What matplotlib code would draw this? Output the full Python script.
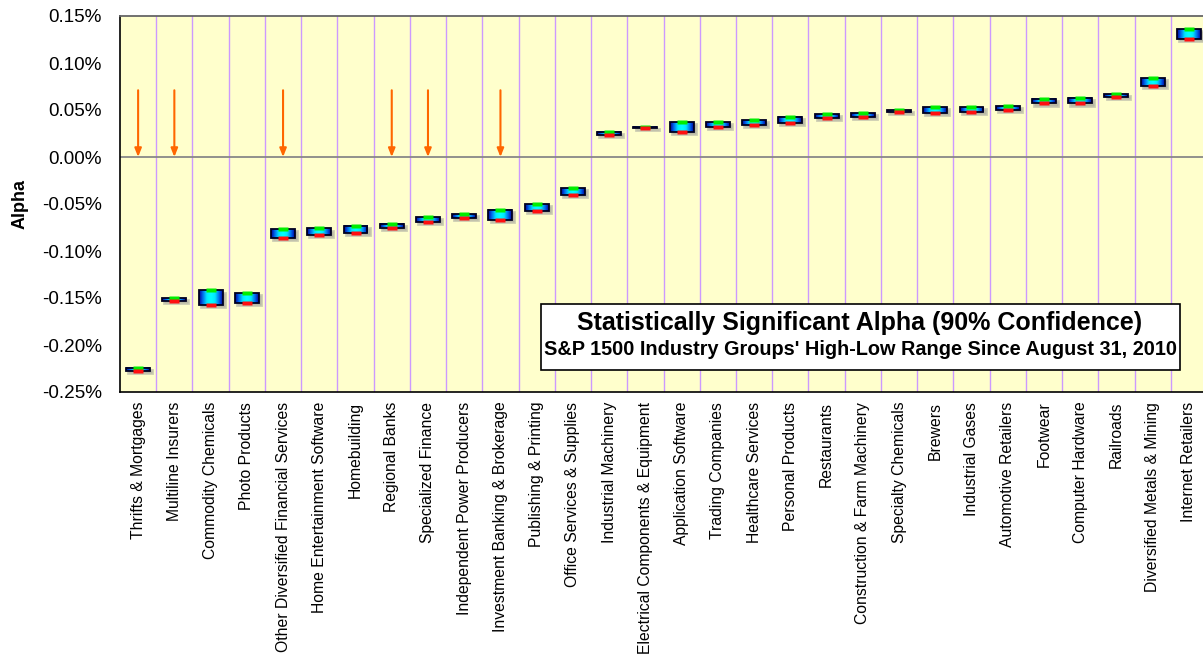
import numpy as np
import matplotlib
matplotlib.use("Agg")
import matplotlib.pyplot as plt
from matplotlib.patches import Rectangle
from matplotlib.path import Path
from matplotlib.colors import LinearSegmentedColormap
from matplotlib.transforms import ScaledTranslation

plt.rcParams['font.family'] = ['Liberation Sans', 'DejaVu Sans']

# industry groups, sorted by alpha
categories = ["Thrifts & Mortgages", "Multiline Insurers", "Commodity Chemicals", "Photo Products",
              "Other Diversified Financial Services", "Home Entertainment Software", "Homebuilding",
              "Regional Banks", "Specialized Finance", "Independent Power Producers",
              "Investment Banking & Brokerage", "Publishing & Printing", "Office Services & Supplies",
              "Industrial Machinery", "Electrical Components & Equipment", "Application Software",
              "Trading Companies", "Healthcare Services", "Personal Products", "Restaurants",
              "Construction & Farm Machinery", "Specialty Chemicals", "Brewers", "Industrial Gases",
              "Automotive Retailers", "Footwear", "Computer Hardware", "Railroads",
              "Diversified Metals & Mining", "Internet Retailers"]

# alpha range (in %)
highs = [-0.224, -0.150, -0.142, -0.145, -0.077, -0.076, -0.073, -0.071, -0.064, -0.061,
         -0.056, -0.050, -0.033, 0.027, 0.0316, 0.037, 0.037, 0.039, 0.043, 0.046,
         0.0465, 0.050, 0.053, 0.053, 0.054, 0.062, 0.063, 0.067, 0.084, 0.136]
lows = [-0.228, -0.153, -0.157, -0.155, -0.086, -0.083, -0.081, -0.075, -0.069, -0.065,
        -0.067, -0.057, -0.040, 0.023, 0.0305, 0.027, 0.032, 0.034, 0.0365, 0.042,
        0.043, 0.048, 0.047, 0.048, 0.050, 0.057, 0.057, 0.064, 0.076, 0.126]

# groups flagged with an arrow
flagged = ["Thrifts & Mortgages", "Multiline Insurers", "Other Diversified Financial Services",
           "Regional Banks", "Specialized Finance", "Investment Banking & Brokerage"]
arrow_top = 0.071

y_ticks = [0.15, 0.10, 0.05, 0.00, -0.05, -0.10, -0.15, -0.20, -0.25]

fig = plt.figure(figsize=(12.03, 6.59), dpi=100)
ax = fig.add_axes([120/1203, 1-392/659, 1087/1203, 376/659])
ax.set_facecolor('#FFFFCC')

n = len(categories)
x = np.arange(n)
ax.set_xlim(-0.5, n - 0.5)
ax.set_ylim(-0.25, 0.15)

# category separators
for b in np.arange(0.5, n - 0.5, 1):
    ax.axvline(b, color='#CC99FF', lw=1.0, zorder=1)
ax.axhline(0, color='#888888', lw=1.3, zorder=1)

cmap = LinearSegmentedColormap.from_list('blu', ['#0000A0', '#0070F0', '#00E8FF', '#00FFFF'])
grad = np.abs(np.linspace(-1, 1, 64))
grad = (1 - grad).reshape(1, -1)

bw = 0.66
shadow = ax.transData + ScaledTranslation(1.5/72, -1.5/72, fig.dpi_scale_trans)
for xi, hi, lo in zip(x, highs, lows):
    ax.add_patch(Rectangle((xi - bw/2, lo), bw, hi - lo, transform=shadow,
                           facecolor='#A0A090', edgecolor='#B8B8A8', lw=2.0, alpha=0.7, zorder=2))
    ax.imshow(grad, cmap=cmap, extent=(xi - bw/2, xi + bw/2, lo, hi), aspect='auto',
              interpolation='bilinear', zorder=3)
    ax.add_patch(Rectangle((xi - bw/2, lo), bw, hi - lo, fill=False,
                           edgecolor='#000020', lw=1.3, zorder=4))

mk = Path([(-1, -0.38), (1, -0.38), (1, 0.38), (-1, 0.38), (-1, -0.38)],
          [Path.MOVETO, Path.LINETO, Path.LINETO, Path.LINETO, Path.CLOSEPOLY])
ax.plot(x, highs, ls='none', marker=mk, markersize=6.5, color='#00EE00', mec='none', zorder=5)
ax.plot(x, lows, ls='none', marker=mk, markersize=6.5, color='#FF1010', mec='none', zorder=5)

for name in flagged:
    xi = categories.index(name)
    ax.annotate('', xy=(xi, 0.0), xytext=(xi, arrow_top),
                arrowprops=dict(arrowstyle='-|>,head_length=0.5,head_width=0.2',
                                color='#FF6600', lw=1.5, shrinkA=0, shrinkB=0), zorder=6)

ax.set_yticks(y_ticks)
ax.set_yticklabels([f"{v:.2f}%" for v in y_ticks], fontsize=13.6)
ax.set_xticks(x)
ax.set_xticklabels(categories, rotation=90, fontsize=11.3)
ax.tick_params(axis='both', length=0)
ax.tick_params(axis='x', pad=7)
ax.tick_params(axis='y', pad=13)
ax.set_ylabel('Alpha', fontsize=13, fontweight='bold')
ax.yaxis.set_label_coords(-0.084, 0.5)

for s in ['left', 'bottom']:
    ax.spines[s].set_color('black')
    ax.spines[s].set_linewidth(1.2)
ax.spines['top'].set_color('#666666')
ax.spines['top'].set_linewidth(1.3)
ax.spines['right'].set_visible(False)

# title box
ax.add_patch(Rectangle((0.3873, 0.0585), 0.5879, 0.1755, transform=ax.transAxes,
                       facecolor='white', edgecolor='black', lw=1.2, zorder=7))
ax.text(0.6808, 0.1835, 'Statistically Significant Alpha (90% Confidence)', transform=ax.transAxes,
        ha='center', va='center', fontsize=18, fontweight='bold', zorder=8)
ax.text(0.6808, 0.112, "S&P 1500 Industry Groups' High-Low Range Since August 31, 2010",
        transform=ax.transAxes, ha='center', va='center', fontsize=14.3, fontweight='bold', zorder=8)

fig.savefig('out.png', dpi=100)
